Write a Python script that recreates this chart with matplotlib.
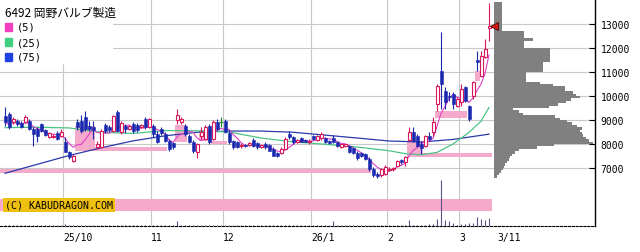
import numpy as np
import pandas as pd
import matplotlib
matplotlib.use("Agg")
import matplotlib.pyplot as plt
from matplotlib.patches import Rectangle

# daily candles, index 0 = 2025-09-09 ... index 121 = 2026-03-11
opens = [9167, 9250, 8917, 8958, 8875, 8917, 8958, 8625, 8625, 8833,
         8583, 8292, 8292, 8458, 8333, 8083, 7667, 7292, 8917, 8958,
         9125, 8750, 8708, 7875, 7875, 8792, 8708, 8542, 9333, 8500,
         8750, 8625, 8833, 8792, 8708, 9042, 8708, 8750, 8417, 8625,
         8417, 8125, 8042, 9000, 8917, 8750, 8333, 8083, 7667, 8333,
         8208, 8750, 8208, 8917, 8917, 8958, 8458, 8125, 8083, 7917,
         7958, 7958, 8167, 8042, 7875, 8000, 7958, 7792, 7625, 7625,
         7792, 8417, 8292, 8083, 8250, 8167, 8083, 8333, 8167, 8250,
         8250, 8125, 8250, 8083, 7875, 7917, 7917, 7833, 7625, 7625,
         7583, 7375, 6958, 6750, 6708, 6750, 6917, 6958, 7083, 7333,
         7250, 8167, 8500, 8333, 8000, 7917, 8333, 8500, 9667, 11042,
         10208, 10000, 10083, 9583, 9750, 10375, 9583, 10000, 11500, 10833,
         11625, 12833]
highs = [9542, 9333, 9125, 9042, 8958, 9208, 9042, 8708, 8708, 8875,
         8625, 8500, 8417, 8542, 8625, 8292, 7708, 7583, 9042, 9208,
         9375, 8958, 8958, 8125, 8625, 8875, 8792, 9208, 9417, 8958,
         8833, 8792, 8917, 8875, 8833, 9125, 9083, 8833, 8542, 8708,
         8500, 8208, 8083, 9458, 9125, 8833, 8417, 8167, 8042, 8708,
         8792, 8833, 9000, 9042, 9125, 9042, 8583, 8167, 8125, 8042,
         8000, 8083, 8250, 8083, 7958, 8083, 8000, 7875, 7667, 7875,
         8292, 8542, 8333, 8208, 8292, 8208, 8208, 8375, 8375, 8500,
         8292, 8167, 8375, 8125, 8000, 8000, 7958, 7875, 7708, 7667,
         7625, 7458, 7042, 6833, 7000, 7125, 7042, 7042, 7333, 7375,
         7500, 8708, 8708, 8417, 8125, 8375, 8500, 9125, 10500, 12667,
         10375, 10167, 10167, 9958, 10500, 10417, 9625, 10625, 11875, 11875,
         12375, 13875]
lows = [8750, 8625, 8833, 8750, 8667, 8875, 8583, 7917, 8083, 8500,
        8333, 8250, 8250, 8167, 8292, 7667, 7375, 7250, 8583, 8458,
        8542, 8542, 8208, 7792, 7833, 8458, 8500, 8500, 8500, 8417,
        8458, 8583, 8458, 8500, 8667, 8625, 8667, 8292, 8042, 8375,
        8083, 7708, 7792, 8833, 8833, 8333, 8042, 7625, 7417, 8208,
        8167, 8000, 8167, 8542, 8708, 8458, 8000, 7792, 7833, 7833,
        7875, 7917, 7875, 7792, 7833, 7792, 7708, 7500, 7458, 7583,
        7792, 8208, 8000, 8042, 8083, 8083, 8000, 8167, 8125, 8167,
        8042, 8000, 8042, 7875, 7833, 7875, 7625, 7583, 7333, 7458,
        7333, 6875, 6625, 6583, 6625, 6708, 6875, 6875, 7042, 7167,
        7083, 8125, 8083, 7875, 7583, 7875, 8125, 8333, 9375, 9458,
        9458, 9792, 9458, 9542, 9583, 9750, 8958, 9875, 11042, 10792,
        11583, 12292]
closes = [8917, 8708, 9042, 8833, 8708, 9125, 8625, 8417, 8333, 8542,
          8375, 8458, 8333, 8208, 8500, 7667, 7458, 7500, 8708, 8542,
          8625, 8625, 8583, 8000, 8542, 8542, 8583, 9167, 8542, 8875,
          8625, 8750, 8542, 8583, 8792, 8708, 9042, 8417, 8083, 8458,
          8125, 7792, 7875, 9208, 9042, 8417, 8083, 7708, 8000, 8500,
          8708, 8083, 8917, 8625, 8917, 8500, 8083, 7875, 7875, 7958,
          7917, 8042, 7917, 7875, 7958, 7875, 7708, 7500, 7500, 7792,
          8208, 8292, 8083, 8167, 8083, 8083, 8125, 8208, 8333, 8417,
          8083, 8042, 8083, 7917, 8000, 8000, 7667, 7625, 7417, 7500,
          7375, 6958, 6708, 6667, 6958, 7042, 6958, 7000, 7292, 7250,
          7458, 8500, 8125, 7917, 7833, 8333, 8208, 8917, 10417, 10500,
          9750, 9958, 9667, 9875, 10292, 9792, 9042, 10583, 11417, 11667,
          11958, 12917]
volume = [6, 6, 6, 6, 6, 6, 8, 6, 6, 6,
          6, 6, 6, 6, 6, 25, 8, 8, 10, 15,
          8, 6, 6, 6, 6, 6, 6, 12, 12, 6,
          6, 6, 6, 6, 6, 6, 6, 6, 6, 6,
          6, 6, 6, 50, 10, 6, 6, 6, 6, 8,
          6, 6, 6, 10, 6, 6, 6, 6, 6, 6,
          6, 6, 6, 6, 6, 6, 6, 6, 6, 6,
          6, 6, 6, 6, 6, 6, 6, 6, 6, 6,
          6, 6, 50, 6, 6, 6, 6, 6, 6, 6,
          6, 6, 8, 6, 6, 6, 6, 6, 8, 6,
          12, 65, 8, 6, 10, 6, 20, 20, 75, 460,
          65, 50, 27, 10, 20, 20, 30, 30, 93, 67,
          60, 77]

# moving averages
ma25_idx = [0, 8, 16, 24, 32, 40, 48, 56, 64, 72, 80, 88, 96, 100, 104, 108, 112, 116, 119, 121]
ma25 = [8680, 8700, 8670, 8490, 8440, 8560, 8550, 8500, 8250, 8090, 7990, 7875, 7720, 7600,
        7550, 7650, 8000, 8480, 8950, 9520]
ma75_idx = [0, 8, 16, 24, 32, 40, 48, 56, 64, 72, 80, 88, 96, 104, 112, 121]
ma75 = [6780, 7150, 7520, 7840, 8130, 8340, 8490, 8540, 8540, 8490, 8370, 8250, 8125, 8083,
        8190, 8410]

# pink price zones: start index, end index, low, high
zone_start = [-1.25, -1.25, 17.5, 17.5, 42.5, 48.5, 51.5, 40.5, 107.5, 100.5, 100.5, 107.5, 117.5]
zone_end = [121.75, 91.5, 40.5, 22.5, 45.5, 51.5, 55.5, 53.0, 115.5, 104.5, 121.75, 121.5, 118.75]
zone_low = [5208, 6771, 7695, 7708, 8083, 8125, 8000, 7690, 9083, 7500, 7470, 8490, 10625]
zone_high = [5717, 6938, 7860, 8750, 8792, 8583, 8125, 7725, 9375, 8100, 7610, 8515, 11042]

# price-by-volume profile (100 yen bins starting at 6600)
prof_price = list(range(6600, 13900, 100))
prof_vol = [3, 5, 7, 9, 10, 11, 13, 15, 16, 18,
            21, 25, 43, 60, 99, 95, 92, 89, 88, 86,
            88, 83, 78, 73, 66, 61, 29, 25, 19, 55,
            64, 72, 77, 86, 82, 79, 71, 71, 59, 46,
            32, 32, 32, 32, 49, 49, 49, 49, 56, 56,
            56, 56, 56, 56, 30, 30, 30, 39, 30, 30,
            30, 8, 8, 8, 8, 8, 8, 8, 8, 8,
            8, 8, 8]

month_pos = [14.5, 36.5, 54.5, 76.5, 95.5, 113.5]
tick_pos = month_pos + [123]
tick_lab = ['25/10', '11', '12', '26/1', '2', '3', '3/11']
price_ticks = [7000, 8000, 9000, 10000, 11000, 12000, 13000]
last_price = closes[-1]

RED = '#d8185a'
BLUE = '#1a28b0'
GREEN = '#1f8a2a'
PINK = '#f5a9cb'
GRID = '#c8c8c8'
MONO = 'DejaVu Sans Mono'

W, H = 640, 253
fig = plt.figure(figsize=(6.4, 2.53), dpi=100)
rect = [0, 26 / H, 595 / W, 227 / H]
ax = fig.add_axes(rect)
ax.set_xlim(-1.25, 147.5)
ax.set_ylim(4583, 14042)

for p in price_ticks:
    ax.axhline(p, color=GRID, lw=0.8, zorder=0)
for m in month_pos:
    ax.axvline(m, color=GRID, lw=0.8, zorder=0)

for s, e, lo, hi in zip(zone_start, zone_end, zone_low, zone_high):
    ax.add_patch(Rectangle((s, lo), e - s, hi - lo, color=PINK, lw=0, zorder=1))

x = np.arange(len(closes))
o, h, l, c = map(np.array, (opens, highs, lows, closes))
up, dn, eq = c > o, c < o, c == o

ma5 = pd.Series(closes).rolling(5, min_periods=1).mean()
ax.plot(ma75_idx, ma75, color='#2a3aa8', lw=0.9, zorder=2)
ax.plot(ma25_idx, ma25, color='#4cc483', lw=0.9, zorder=2)
ax.plot(x, ma5, color='#e040c8', lw=0.8, zorder=2)

ax.vlines(x[up], l[up], h[up], color=RED, lw=0.8, zorder=3)
ax.vlines(x[dn], l[dn], h[dn], color=BLUE, lw=0.8, zorder=3)
ax.vlines(x[eq], l[eq], h[eq], color=GREEN, lw=0.8, zorder=3)
ax.bar(x[up], c[up] - o[up], bottom=o[up], width=0.75, facecolor='white',
       edgecolor=RED, lw=0.8, zorder=4)
ax.bar(x[dn], o[dn] - c[dn], bottom=c[dn], width=0.75, color=BLUE,
       edgecolor=BLUE, lw=0.4, zorder=4)
ax.hlines(c[eq], x[eq] - 0.45, x[eq] + 0.45, color=GREEN, lw=0.8, zorder=4)

ax.yaxis.tick_right()
ax.set_yticks(price_ticks)
ax.set_yticklabels([str(p) for p in price_ticks], family=MONO, fontsize=7)
ax.tick_params(axis='y', direction='in', length=4, width=0.8, pad=4)
ax.set_xticks(tick_pos)
ax.set_xticklabels(tick_lab, family=MONO, fontsize=7, ha='left')
ax.tick_params(axis='x', length=0, pad=4)
for sp in ('top', 'left'):
    ax.spines[sp].set_visible(False)
ax.spines['right'].set_linewidth(1)
ax.spines['bottom'].set_linestyle((0, (2, 1.5)))
ax.spines['bottom'].set_linewidth(0.8)

# volume bars
axv = fig.add_axes(rect, sharex=ax)
axv.patch.set_alpha(0)
axv.set_ylim(0, 2270)
axv.vlines(x, 0, volume, color='#55558a', lw=0.8)
axv.axis('off')

# price-by-volume profile
axp = fig.add_axes([494 / W, 26 / H, (595 - 494) / W, 227 / H])
axp.patch.set_alpha(0)
axp.set_xlim(0, 101)
axp.set_ylim(ax.get_ylim())
axp.barh(prof_price, prof_vol, height=100, align='edge', color='#808080', lw=0)
axp.plot([0], [last_price], marker='<', ms=6, color='#d01818', mec='#500000',
         mew=0.6, clip_on=False, zorder=5)
axp.axis('off')

# legend block
fig.patches.append(Rectangle((0, 1 - 64 / H), 112 / W, 64 / H, transform=fig.transFigure,
                             color='white', zorder=1))
fig.text(5 / W, 1 - 13 / H, '6492 岡野バルブ製造', fontsize=8.5,
         family=['Noto Sans CJK JP', 'DejaVu Sans'], va='center', zorder=3)
for k, (lab, col) in enumerate([('(5)', '#f040c0'), ('(25)', '#40d080'), ('(75)', '#2040e0')]):
    yc = 28 + 15 * k
    fig.patches.append(Rectangle((5 / W, 1 - (yc + 4) / H), 7 / W, 8 / H,
                                 transform=fig.transFigure, color=col, zorder=2))
    fig.text(17 / W, 1 - yc / H, lab, family=MONO, fontsize=7.5, va='center', zorder=3)

fig.text(5 / W, 1 - 206 / H, '(C) KABUDRAGON.COM', family=MONO, fontsize=7.2,
         va='center', bbox=dict(facecolor='#f0c010', edgecolor='none', pad=1.6), zorder=3)

fig.savefig('out.png', dpi=100)
